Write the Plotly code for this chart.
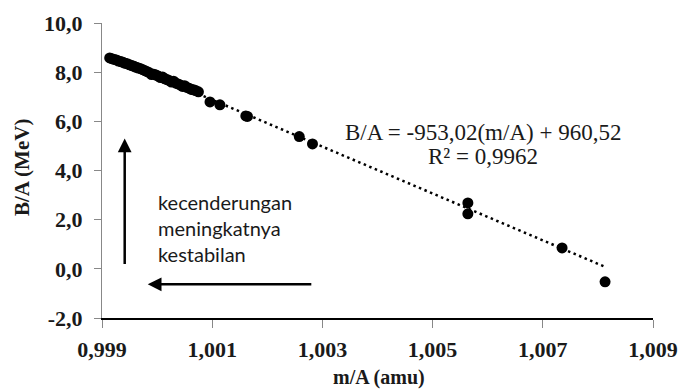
import plotly.graph_objects as go

# ---- data ----
mA = [0.99914, 0.99918, 0.99922, 0.99926, 0.99930, 0.99934, 0.99938, 0.99942, 0.99946, 0.99950,
      0.99954, 0.99958, 0.99962, 0.99966, 0.99970, 0.99974, 0.99978, 0.99982, 0.99986, 0.99990,
      0.99994, 0.99998, 1.00002, 1.00006, 1.00010, 1.00014, 1.00018, 1.00022, 1.00026, 1.00030,
      1.00034, 1.00038, 1.00042, 1.00046, 1.00050, 1.00054, 1.00058, 1.00062, 1.00066, 1.00070,
      1.00075,
      1.00096, 1.00114, 1.00161, 1.00164, 1.00258, 1.00282, 1.00564, 1.00564, 1.00735, 1.00813]
BA = [8.58, 8.55, 8.52, 8.50, 8.45, 8.43, 8.40, 8.36, 8.34, 8.30,
      8.27, 8.24, 8.20, 8.17, 8.14, 8.10, 8.06, 8.02, 7.98, 7.90,
      7.92, 7.88, 7.84, 7.78, 7.80, 7.73, 7.70, 7.66, 7.60, 7.63,
      7.55, 7.52, 7.48, 7.42, 7.45, 7.38, 7.35, 7.30, 7.28, 7.25,
      7.20,
      6.79, 6.67, 6.22, 6.20, 5.38, 5.08, 2.68, 2.24, 0.85, -0.53]

trend_slope = -953.02
trend_intercept = 960.85
trend_x = [min(mA), max(mA)]
trend_y = [trend_slope * v + trend_intercept for v in trend_x]

x_ticks = [0.999, 1.001, 1.003, 1.005, 1.007, 1.009]
x_ticklabels = ["0,999", "1,001", "1,003", "1,005", "1,007", "1,009"]
y_ticks = [-2, 0, 2, 4, 6, 8, 10]
y_ticklabels = ["-2,0", "0,0", "2,0", "4,0", "6,0", "8,0", "10,0"]

x_title = "m/A (amu)"
y_title = "B/A (MeV)"
eq_text = "B/A = -953,02(m/A) + 960,52"
r2_text = "R² = 0,9962"
note_text = "kecenderungan<br>meningkatnya<br>kestabilan"

SERIF = "Liberation Serif, Times New Roman, serif"
TXT = "#1a1a1a"

W, H = 682, 390
ML, MR, MT, MB = 102, 29, 23, 72
PW, PH = W - ML - MR, H - MT - MB


def px2paper(px, py):
    return (px - ML) / PW, 1 - (py - MT) / PH


fig = go.Figure()
fig.add_trace(go.Scatter(
    x=trend_x, y=trend_y, mode="lines",
    line=dict(color="black", width=2.5, dash="2.5px,3.5px"),
    hoverinfo="skip", showlegend=False))
fig.add_trace(go.Scatter(
    x=mA, y=BA, mode="markers",
    marker=dict(color="black", size=11, line=dict(width=0)),
    showlegend=False))

fig.update_layout(
    width=W, height=H,
    margin=dict(l=ML, r=MR, t=MT, b=MB, autoexpand=False),
    paper_bgcolor="white", plot_bgcolor="white",
    showlegend=False,
    xaxis=dict(
        range=[0.999, 1.009], tickvals=x_ticks,
        ticktext=["<b>%s</b>" % t for t in x_ticklabels],
        showgrid=False, zeroline=False, automargin=False,
        showline=True, linecolor="black", linewidth=1.5,
        ticks="outside", ticklen=8, tickcolor="#888888", tickwidth=1,
        ticklabelstandoff=3,
        tickfont=dict(family=SERIF, size=22, color=TXT),
    ),
    yaxis=dict(
        range=[-2, 10], tickvals=y_ticks,
        ticktext=["<b>%s</b>" % t for t in y_ticklabels],
        showgrid=False, zeroline=False, automargin=False,
        showline=True, linecolor="#888888", linewidth=1,
        ticks="outside", ticklen=7, tickcolor="#888888", tickwidth=1,
        ticklabelstandoff=7,
        tickfont=dict(family=SERIF, size=22, color=TXT),
    ),
)

# axis titles
ax_, ay_ = px2paper(379, 378)
fig.add_annotation(x=ax_, y=ay_, xref="paper", yref="paper", text="<b>%s</b>" % x_title,
                   showarrow=False, xanchor="center", yanchor="middle",
                   font=dict(family=SERIF, size=20, color=TXT))
bx_, by_ = px2paper(22, 168)
fig.add_annotation(x=bx_, y=by_, xref="paper", yref="paper", text="<b>%s</b>" % y_title,
                   showarrow=False, xanchor="center", yanchor="middle", textangle=-90,
                   font=dict(family=SERIF, size=21, color=TXT))

# equation and R²
ex, ey = px2paper(483, 132)
fig.add_annotation(x=ex, y=ey, xref="paper", yref="paper", text=eq_text, showarrow=False,
                   xanchor="center", yanchor="middle",
                   font=dict(family=SERIF, size=23, color=TXT))
rx, ry = px2paper(483, 157)
fig.add_annotation(x=rx, y=ry, xref="paper", yref="paper", text=r2_text, showarrow=False,
                   xanchor="center", yanchor="middle",
                   font=dict(family=SERIF, size=23, color=TXT))

# explanatory text
nx, ny = px2paper(156, 228)
fig.add_annotation(x=nx, y=ny, xref="paper", yref="paper", text=note_text, showarrow=False,
                   xanchor="left", yanchor="middle", align="left",
                   font=dict(family="Lato", size=20, color=TXT))

# arrows
fig.add_annotation(x=0.999412, y=5.30, ax=0.999412, ay=0.14, xref="x", yref="y",
                   axref="x", ayref="y", text="", showarrow=True,
                   arrowhead=2, arrowsize=1.1, arrowwidth=2.5, arrowcolor="black")
fig.add_annotation(x=0.999830, y=-0.63, ax=1.002826, ay=-0.63, xref="x", yref="y",
                   axref="x", ayref="y", text="", showarrow=True,
                   arrowhead=2, arrowsize=1.1, arrowwidth=2.5, arrowcolor="black")

fig.write_html("out.html")
